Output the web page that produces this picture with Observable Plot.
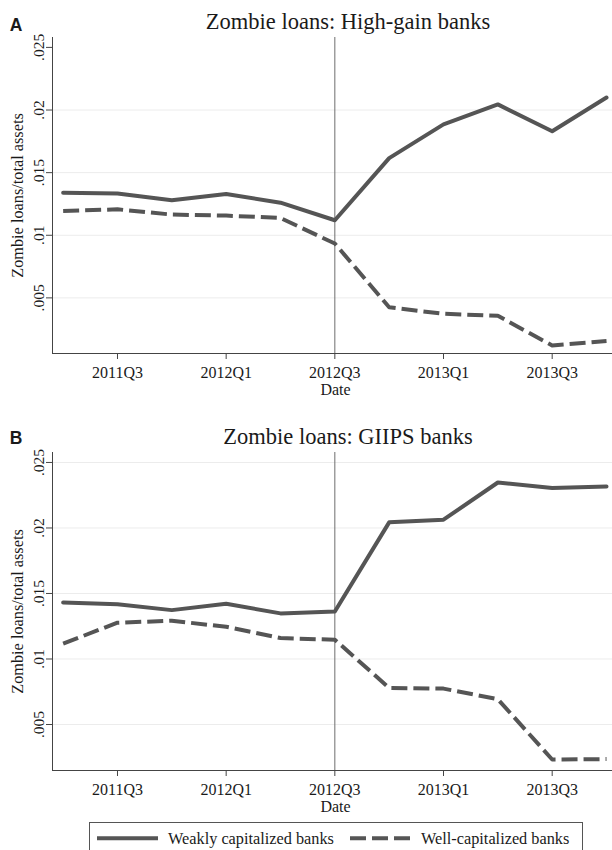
<!DOCTYPE html>
<html><head><meta charset="utf-8">
<script src="https://cdn.jsdelivr.net/npm/d3@7"></script>
<script src="https://cdn.jsdelivr.net/npm/@observablehq/plot@0.6"></script>
<style>
html,body{margin:0;padding:0;background:#fff;}
#root{position:relative;width:612px;height:850px;overflow:hidden;}
#root > svg, #root > div{position:absolute;left:0;}
</style></head><body><div id="root"></div>
<script>
// ---- data ----
const quarters = ["2011Q2","2011Q3","2011Q4","2012Q1","2012Q2","2012Q3","2012Q4","2013Q1","2013Q2","2013Q3","2013Q4"];
const xTickLabels = ["2011Q3","2012Q1","2012Q3","2013Q1","2013Q3"];
const yTickValues = [0.005, 0.01, 0.015, 0.02, 0.025];
const yTickLabels = [".005", ".01", ".015", ".02", ".025"];
const seriesNames = ["Weakly capitalized banks", "Well-capitalized banks"];
const eventQuarter = "2012Q3";
const panelTitles = ["Zombie loans: High-gain banks", "Zombie loans: GIIPS banks"];
const panelLetters = ["A", "B"];
const yLabel = "Zombie loans/total assets";
const xLabel = "Date";

const highGainWeak = [0.0134, 0.01333, 0.0128, 0.0133, 0.0126, 0.0112, 0.01616, 0.01885, 0.02045, 0.0183, 0.0210];
const highGainWell = [0.01194, 0.01207, 0.01165, 0.01157, 0.01138, 0.00934, 0.00425, 0.00373, 0.00357, 0.00120, 0.00155];
const giipsWeak = [0.01431, 0.01418, 0.01373, 0.01421, 0.01348, 0.01363, 0.02043, 0.02063, 0.02347, 0.02305, 0.02317];
const giipsWell = [0.01117, 0.01277, 0.01292, 0.01246, 0.01160, 0.01147, 0.00779, 0.00774, 0.00693, 0.00233, 0.00236];

// ---- drawing ----
const SERIF = "Liberation Serif, Times New Roman, serif";
const LINE = "#555555";
const AXIS = "#444444";
const TEXT = "#1a1a1a";
const DASH = "16,6";
const xDomain = [-0.196, 10.11];
const root = document.getElementById("root");

function rows(vals) { return vals.map((v, i) => ({q: i, v})); }

function panel({title, letter, weak, well, yDomain, grid, top, marginBottom, letterDy}) {
  const xTicks = xTickLabels.map(l => quarters.indexOf(l));
  const chart = Plot.plot({
    width: 612, height: 400,
    marginLeft: 52, marginRight: 0, marginTop: 37, marginBottom,
    x: {domain: xDomain, axis: null},
    y: {domain: yDomain, axis: null},
    style: {fontFamily: SERIF, fontSize: "16px", background: "transparent", overflow: "visible", color: TEXT},
    marks: [
      Plot.ruleY(grid, {stroke: "#ececec", strokeWidth: 1}),
      Plot.ruleX([quarters.indexOf(eventQuarter)], {stroke: "#6e6e6e", strokeWidth: 1}),
      Plot.ruleX([xDomain[0]], {stroke: AXIS, strokeWidth: 1}),
      Plot.ruleY([yDomain[0]], {stroke: AXIS, strokeWidth: 1}),
      Plot.axisX({ticks: xTicks, tickSize: 6, tickPadding: 7, tickFormat: i => xTickLabels[xTicks.indexOf(i)],
        fontSize: 16, stroke: AXIS, fill: TEXT, label: null, fontFamily: SERIF}),
      Plot.axisY({ticks: yTickValues, tickSize: 6, tickFormat: () => "", stroke: AXIS, label: null}),
      Plot.text(yTickValues, {x: xDomain[0], y: d => d, text: d => yTickLabels[yTickValues.indexOf(d)],
        rotate: -90, dx: -9, textAnchor: "middle", lineAnchor: "bottom", fontSize: 15.5, fill: TEXT, fontFamily: SERIF}),
      Plot.text([yLabel], {frameAnchor: "left", rotate: -90, dx: -30, textAnchor: "middle", lineAnchor: "bottom",
        fontSize: 16.3, fill: TEXT, fontFamily: SERIF}),
      Plot.text([xLabel], {frameAnchor: "bottom", dx: 3, dy: 41, lineAnchor: "bottom", fontSize: 16, fill: TEXT, fontFamily: SERIF}),
      Plot.text([title], {frameAnchor: "top", dx: 15.5, dy: -8.4, lineAnchor: "bottom", fontSize: 22.5, fill: TEXT, fontFamily: SERIF}),
      Plot.text([letter], {frameAnchor: "top-left", dx: -42.7, dy: letterDy, textAnchor: "start", lineAnchor: "bottom",
        fontSize: 17.5, fontWeight: "bold", fill: TEXT, fontFamily: "Liberation Sans, Arial, sans-serif"}),
      Plot.line(rows(weak), {x: "q", y: "v", stroke: LINE, strokeWidth: 4, strokeLinejoin: "round"}),
      Plot.line(rows(well), {x: "q", y: "v", stroke: LINE, strokeWidth: 4, strokeDasharray: DASH, strokeLinecap: "butt", strokeLinejoin: "round"})
    ]
  });
  chart.style.top = top + "px";
  root.appendChild(chart);
}

panel({title: panelTitles[0], letter: panelLetters[0], weak: highGainWeak, well: highGainWell,
  yDomain: [0.00056, 0.02579], grid: yTickValues.slice(0, 4), top: 0, marginBottom: 47, letterDy: -6.7});
panel({title: panelTitles[1], letter: panelLetters[1], weak: giipsWeak, well: giipsWell,
  yDomain: [0.00149, 0.02576], grid: yTickValues, top: 415, marginBottom: 45, letterDy: -9});

// ---- legend ----
const lg = d3.create("svg").attr("width", 612).attr("height", 50).style("top", "800px").style("position", "absolute");
lg.append("rect").attr("x", 89.5).attr("y", 22.5).attr("width", 493).attr("height", 40)
  .attr("fill", "none").attr("stroke", "#555").attr("stroke-width", 1);
const items = [{x1: 97, x2: 158, tx: 168, dash: null}, {x1: 350, x2: 411, tx: 421, dash: DASH}];
items.forEach((it, i) => {
  const l = lg.append("line").attr("x1", it.x1).attr("x2", it.x2).attr("y1", 38.3).attr("y2", 38.3)
    .attr("stroke", LINE).attr("stroke-width", 4);
  if (it.dash) l.attr("stroke-dasharray", it.dash);
  lg.append("text").attr("x", it.tx).attr("y", 44).attr("font-family", SERIF).attr("font-size", 16.3)
    .attr("fill", TEXT).text(seriesNames[i]);
});
root.appendChild(lg.node());
</script></body></html>
